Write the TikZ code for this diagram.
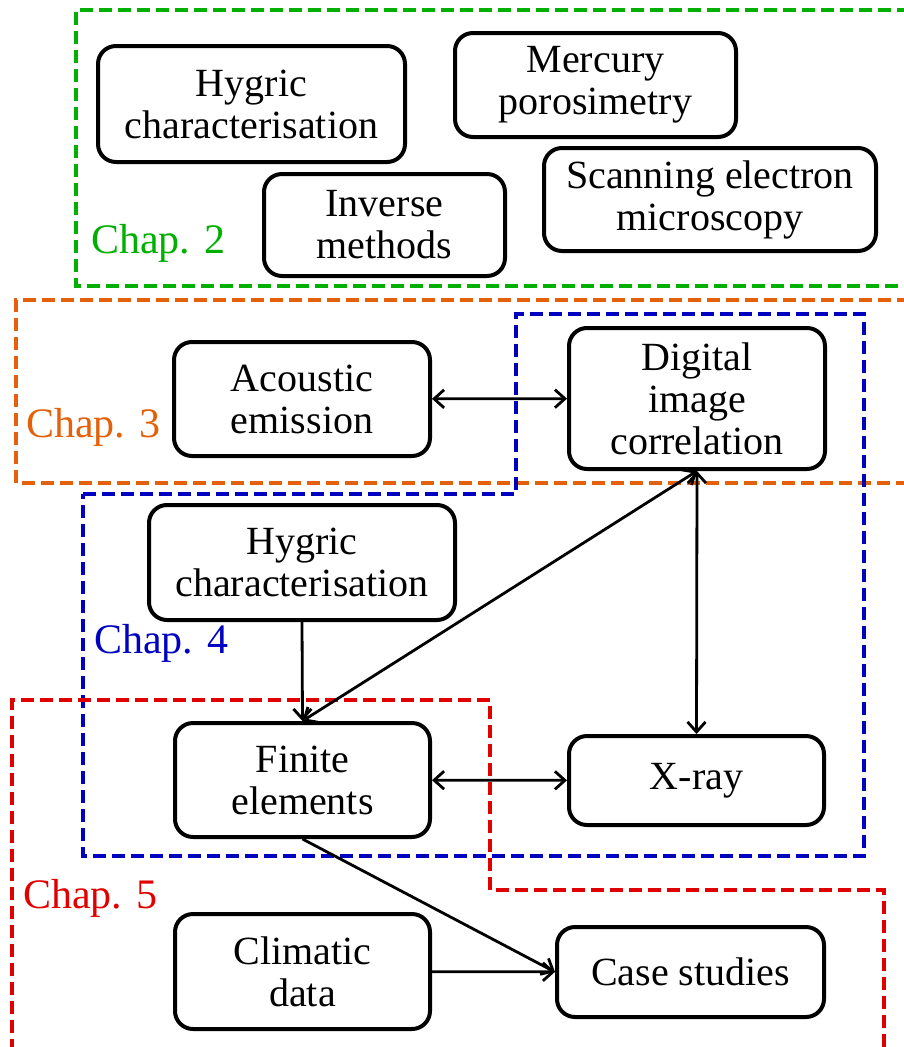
\documentclass[tikz,border=0pt]{standalone}
\usepackage{fontspec}
\setmainfont{Liberation Serif}
\usetikzlibrary{arrows.meta}
\definecolor{cgreen}{RGB}{0,176,0}
\definecolor{corange}{RGB}{228,96,10}
\definecolor{cblue}{RGB}{0,0,192}
\definecolor{cred}{RGB}{224,0,0}
\tikzset{
  box/.style={draw, line width=4pt, rounded corners=18pt, align=center, inner sep=0pt, outer sep=2pt,
    font=\fontsize{40}{42}\selectfont},
  chaplabel/.style={anchor=base west, inner sep=0pt, font=\fontsize{42}{44}\selectfont},
  frame/.style={line width=3.4pt, dash pattern=on 13pt off 6pt},
  conn/.style={line width=2.8pt, -{Straight Barb[length=10pt,width=18pt,line width=2.8pt]}},
  biconn/.style={line width=2.8pt, {Straight Barb[length=10pt,width=18pt,line width=2.8pt]}-{Straight Barb[length=10pt,width=18pt,line width=2.8pt]}}
}
\begin{document}
\begin{tikzpicture}[x=1pt,y=-1pt]
\useasboundingbox (0,0) rectangle (904,1047);
% frames
\draw[frame, cgreen] (910,10) -- (76,10) -- (76,286) -- (910,286);
\draw[frame, corange] (910,300) -- (16,300) -- (16,483) -- (910,483);
\draw[frame, cblue] (83,494) -- (516,494) -- (516,314) -- (864,314) -- (864,856) -- (83,856) -- cycle;
\draw[frame, cred] (12,1052) -- (12,700) -- (490,700) -- (490,890) -- (884,890) -- (884,1052);
% labels
\node[chaplabel, text=cgreen] (l2) at (91,253) {Chap. 2};
\node[chaplabel, text=corange] (l3) at (26,437) {Chap. 3};
\node[chaplabel, text=cblue] (l4) at (94,653) {Chap. 4};
\node[chaplabel, text=cred] (l5) at (23,908) {Chap. 5};
% boxes
\node[box, minimum width=307pt, minimum height=116pt] (hyg1) at (251.5,104) {Hygric\\characterisation};
\node[box, minimum width=241pt, minimum height=102pt] (inv) at (384.5,225) {Inverse\\methods};
\node[box, minimum width=281pt, minimum height=104pt] (merc) at (595.5,85) {Mercury\\porosimetry};
\node[box, minimum width=332pt, minimum height=103pt] (sem) at (710,199.5) {Scanning electron\\microscopy};
\node[box, minimum width=256pt, minimum height=114pt] (ae) at (302,399) {Acoustic\\emission};
\node[box, minimum width=256pt, minimum height=141pt] (dic) at (697,398.5) {Digital\\image\\correlation};
\node[box, minimum width=306pt, minimum height=115pt] (hyg2) at (302,562.5) {Hygric\\characterisation};
\node[box, minimum width=255pt, minimum height=114pt] (fe) at (302.5,780) {Finite\\elements};
\node[box, minimum width=255pt, minimum height=89pt] (xray) at (696.5,780.5) {X-ray};
\node[box, minimum width=255pt, minimum height=115pt] (clim) at (302.5,971.5) {Climatic\\data};
\node[box, minimum width=267pt, minimum height=90pt] (case) at (690.5,972) {Case studies};
% connectors
\draw[biconn] (ae) -- (dic);
\draw[biconn] (dic.south) -- (xray.north);
\draw[biconn] (fe) -- (xray);
\draw[conn] (hyg2.south) -- (fe.north);
\draw[biconn] (fe.north) -- (dic.south);
\draw[conn] (fe.south) -- (case.west);
\draw[conn] (clim) -- (case);
\end{tikzpicture}
\end{document}
